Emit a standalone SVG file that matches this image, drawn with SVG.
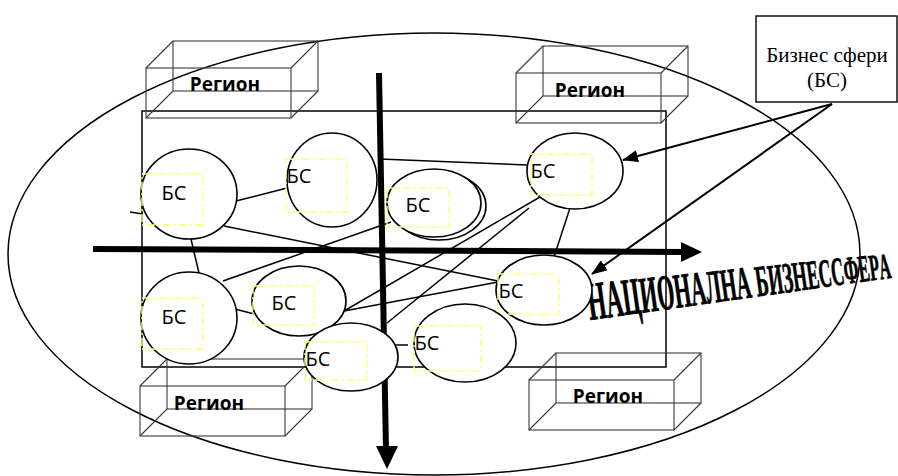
<svg xmlns="http://www.w3.org/2000/svg" xmlns:xlink="http://www.w3.org/1999/xlink" width="898" height="476" viewBox="0 0 898 476">
<style>
.ln{stroke:#000;stroke-width:1.5;fill:none}
.bs{fill:#fff;stroke:#000;stroke-width:1.6}
.dr{fill:none;stroke:#ffff77;stroke-width:1.4;stroke-dasharray:8 3 2 3}
.t{font-family:"Open Sans","Noto Sans",sans-serif;font-size:20px;text-anchor:middle;fill:#000}
.rg{font-family:"Open Sans","Noto Sans",sans-serif;font-size:19px;font-weight:bold;text-anchor:middle;fill:#000}
.bx{fill:none;stroke:#3a3a3a;stroke-width:1.1}
.ax{stroke:#000;stroke-width:6;fill:none}
.ar{stroke:#000;stroke-width:2;fill:none}
</style>
<defs>
<g id="box">
<rect class="bx" x="0" y="0" width="145" height="50"/>
<rect class="bx" x="27" y="-27" width="145" height="50"/>
<path class="bx" d="M0 0L27 -27M145 0L172 -27M145 50L172 23M0 50L27 23"/>
</g>
<marker id="ah" markerUnits="userSpaceOnUse" markerWidth="16" markerHeight="12" refX="15" refY="6" orient="auto">
<path d="M0 0L16 6L0 12z" fill="#000"/>
</marker>
</defs>

<g id="title-text">
<text transform="translate(590,320) rotate(-8) scale(0.437,1)" font-family="'Liberation Serif',serif" font-weight="bold" fill="#000" stroke="#000" stroke-width="0.8"><tspan font-size="54">Н</tspan><tspan font-size="53">А</tspan><tspan font-size="52">Ц</tspan><tspan font-size="51">И</tspan><tspan font-size="50">О</tspan><tspan font-size="49">Н</tspan><tspan font-size="48">А</tspan><tspan font-size="47">Л</tspan><tspan font-size="46">Н</tspan><tspan font-size="46">А</tspan><tspan font-size="45"> </tspan><tspan font-size="44">Б</tspan><tspan font-size="43">И</tspan><tspan font-size="43">З</tspan><tspan font-size="42">Н</tspan><tspan font-size="41">Е</tspan><tspan font-size="40">С</tspan><tspan font-size="40">С</tspan><tspan font-size="39">Ф</tspan><tspan font-size="38">Е</tspan><tspan font-size="37">Р</tspan><tspan font-size="36">А</tspan></text>
</g>

<g id="outer-sphere">
<ellipse class="ln" cx="434" cy="254" rx="426" ry="221"/>
</g>
<g id="inner-frame">
<rect class="ln" x="142" y="111" width="524" height="256"/>
</g>

<g id="region-tl" transform="translate(146,68)"><use xlink:href="#box"/><text class="rg" x="79" y="23">Регион</text></g>
<g id="region-tr" transform="translate(516,73)"><use xlink:href="#box"/><text class="rg" x="74" y="24">Регион</text></g>
<g id="region-bl" transform="translate(140,386)"><use xlink:href="#box"/><text class="rg" x="69" y="24">Регион</text></g>
<g id="region-br" transform="translate(529,380)"><use xlink:href="#box"/><text class="rg" x="79" y="23">Регион</text></g>

<g id="axes">
<line class="ax" x1="93" y1="249" x2="684" y2="252"/>
<polygon points="681,242 702,252 681,262" fill="#000"/>
<line class="ax" x1="379" y1="73" x2="386" y2="450"/>
<polygon points="376,446 398,446 387,469" fill="#000"/>
</g>

<g id="legend">
<rect x="756" y="16" width="141" height="86" fill="#fff" stroke="#000" stroke-width="1.4"/>
<text x="827" y="62" font-family="'Liberation Serif',serif" font-size="21" text-anchor="middle">Бизнес сфери</text>
<text x="827" y="87" font-family="'Liberation Serif',serif" font-size="21" text-anchor="middle">(БС)</text>
</g>

<g id="connectors">
<line class="ln" x1="130" y1="212" x2="143" y2="214"/>
<line class="ln" x1="236" y1="201" x2="287" y2="188"/>
<line class="ln" x1="224" y1="226" x2="498" y2="281"/>
<line class="ln" x1="191" y1="239" x2="199" y2="273"/>
<line class="ln" x1="223" y1="281" x2="391" y2="222"/>
<line class="ln" x1="380" y1="159" x2="528" y2="165"/>
<line class="ln" x1="344" y1="311" x2="540" y2="197"/>
<line class="ln" x1="387" y1="323" x2="529" y2="208"/>
<line class="ln" x1="344" y1="311" x2="498" y2="282"/>
<line class="ln" x1="570" y1="208" x2="554" y2="257"/>
<line class="ln" x1="387" y1="345" x2="408" y2="345"/>
<line class="ln" x1="235" y1="309" x2="254" y2="314"/>
<line class="ar" x1="832" y1="104" x2="623" y2="160" marker-end="url(#ah)"/>
<line class="ar" x1="832" y1="104" x2="592" y2="274" marker-end="url(#ah)"/>
</g>

<g id="bs1"><ellipse class="bs" cx="189" cy="194" rx="48" ry="45"/><rect class="dr" x="142" y="174" width="61" height="51"/><text class="t" x="174" y="200">БС</text></g>
<g id="bs2"><ellipse class="bs" cx="332" cy="180" rx="45" ry="47"/><rect class="dr" x="286" y="159" width="61" height="53"/><text class="t" x="299" y="183">БС</text></g>
<g id="bs3"><ellipse class="bs" cx="439" cy="206" rx="47" ry="34"/><ellipse class="bs" cx="434" cy="203" rx="47" ry="34"/><rect class="dr" x="387" y="188" width="62" height="39"/><text class="t" x="418" y="212">БС</text></g>
<g id="bs4"><ellipse class="bs" cx="575" cy="171" rx="48" ry="38"/><rect class="dr" x="531" y="154" width="61" height="41"/><text class="t" x="543" y="178">БС</text></g>
<g id="bs5"><ellipse class="bs" cx="544" cy="290" rx="48" ry="35"/><rect class="dr" x="498" y="274" width="61" height="40"/><text class="t" x="511" y="298">БС</text></g>
<g id="bs6"><ellipse class="bs" cx="189" cy="318" rx="48" ry="46"/><rect class="dr" x="142" y="298" width="61" height="51"/><text class="t" x="174" y="324">БС</text></g>
<g id="bs7"><ellipse class="bs" cx="299" cy="301" rx="47" ry="35"/><rect class="dr" x="253" y="286" width="61" height="39"/><text class="t" x="284" y="310">БС</text></g>
<g id="bs8"><ellipse class="bs" cx="351" cy="357" rx="47" ry="34"/><rect class="dr" x="305" y="342" width="62" height="38"/><text class="t" x="318" y="366">БС</text></g>
<g id="bs9"><ellipse class="bs" cx="465" cy="343" rx="51" ry="39"/><rect class="dr" x="414" y="326" width="67" height="45"/><text class="t" x="427" y="350">БС</text></g>
</svg>
